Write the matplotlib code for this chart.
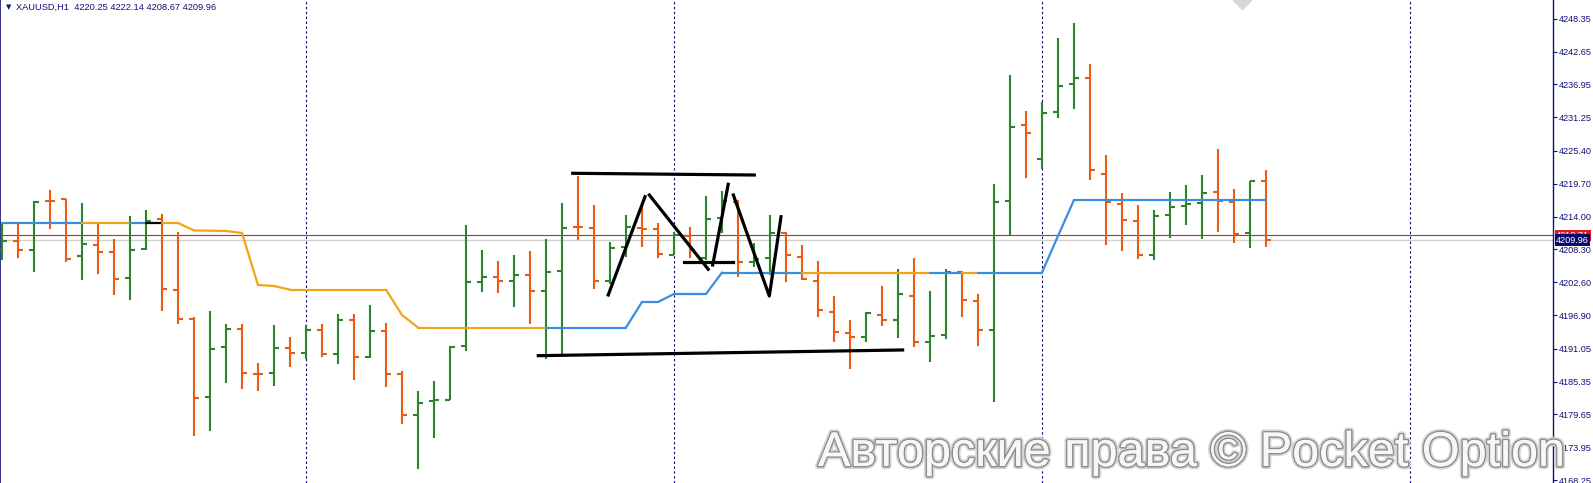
import matplotlib
matplotlib.use("Agg")
import matplotlib.pyplot as plt
import matplotlib.patheffects as pe
from matplotlib.collections import LineCollection

# hourly bars
opens = [4208.19, 4209.80, 4208.19, 4216.75, 4217.10, 4207.15, 4209.11, 4207.79, 4203.38, 4208.36,
         4213.52, 4201.30, 4196.21, 4182.67, 4191.40, 4194.52, 4186.71, 4186.83, 4191.23, 4190.36,
         4194.35, 4190.13, 4196.04, 4189.61, 4194.18, 4186.61, 4179.59, 4181.92, 4182.14, 4191.52,
         4202.69, 4203.55, 4202.86, 4203.90, 4201.07, 4204.60, 4212.24, 4211.96, 4202.86, 4208.76,
         4211.96, 4211.78, 4207.32, 4210.62, 4206.75, 4213.66, 4216.58, 4206.02, 4206.85, 4211.19,
         4207.06, 4202.86, 4197.37, 4193.83, 4193.14, 4196.90, 4196.04, 4200.25, 4192.21, 4193.43,
         4204.42, 4199.39, 4194.35, 4216.75, 4229.84, 4224.04, 4232.20, 4237.01, 4238.00, 4221.44,
         4216.23, 4213.17, 4207.37, 4214.32, 4215.88, 4216.40, 4218.31, 4216.58, 4211.19, 4220.25]
highs = [4212.88, 4213.00, 4216.75, 4218.61, 4217.10, 4216.35, 4212.70, 4210.10, 4214.09, 4215.14,
         4214.44, 4211.26, 4196.50, 4197.60, 4195.34, 4195.29, 4188.57, 4195.11, 4193.14, 4195.17,
         4195.34, 4197.08, 4197.08, 4198.64, 4195.46, 4187.18, 4183.71, 4185.44, 4191.52, 4212.53,
         4208.19, 4206.33, 4207.32, 4208.07, 4210.10, 4216.30, 4221.09, 4216.00, 4209.63, 4214.27,
         4215.88, 4212.83, 4211.37, 4212.24, 4217.62, 4218.52, 4216.87, 4209.35, 4214.27, 4211.37,
         4209.06, 4206.28, 4200.20, 4196.04, 4197.37, 4201.94, 4204.84, 4206.75, 4201.07, 4204.84,
         4204.54, 4200.50, 4219.60, 4238.58, 4232.33, 4233.84, 4245.00, 4247.61, 4240.43, 4224.63,
         4218.14, 4216.00, 4215.14, 4218.26, 4219.48, 4221.21, 4225.73, 4218.78, 4220.22, 4222.14]
lows = [4206.45, 4206.75, 4204.32, 4211.89, 4206.05, 4202.93, 4203.97, 4200.43, 4199.46, 4208.19,
        4197.55, 4195.29, 4175.84, 4176.71, 4185.15, 4184.00, 4183.76, 4184.63, 4187.93, 4189.26,
        4189.66, 4188.45, 4185.67, 4189.40, 4184.35, 4177.92, 4170.11, 4175.60, 4182.14, 4190.60,
        4200.98, 4200.78, 4198.24, 4195.39, 4189.21, 4189.96, 4209.87, 4201.37, 4202.29, 4206.92,
        4208.76, 4206.85, 4207.32, 4206.75, 4206.45, 4211.19, 4203.50, 4205.19, 4203.85, 4202.69,
        4202.98, 4196.61, 4192.27, 4187.47, 4192.27, 4195.05, 4192.86, 4191.29, 4188.69, 4192.68,
        4196.61, 4191.57, 4181.74, 4210.79, 4220.74, 4222.25, 4231.06, 4232.62, 4220.29, 4209.01,
        4208.10, 4206.58, 4206.45, 4210.33, 4212.58, 4210.15, 4211.37, 4209.46, 4208.48, 4208.67]
closes = [4209.80, 4208.19, 4216.58, 4216.70, 4206.63, 4209.28, 4207.89, 4203.21, 4208.24, 4213.28,
          4201.47, 4196.16, 4182.49, 4191.05, 4194.52, 4186.83, 4186.66, 4191.23, 4190.36, 4194.35,
          4190.13, 4196.04, 4189.66, 4194.18, 4186.71, 4179.59, 4181.67, 4182.06, 4191.40, 4202.69,
          4203.55, 4202.86, 4203.90, 4201.07, 4204.37, 4212.06, 4212.13, 4202.86, 4208.59, 4212.24,
          4211.78, 4207.44, 4210.71, 4208.19, 4213.63, 4216.78, 4206.19, 4206.58, 4211.09, 4207.32,
          4203.24, 4197.77, 4194.00, 4193.14, 4197.20, 4196.04, 4200.50, 4192.21, 4193.31, 4204.42,
          4199.51, 4194.35, 4216.58, 4229.60, 4228.56, 4232.03, 4236.72, 4238.00, 4222.13, 4216.58,
          4213.45, 4207.32, 4214.15, 4215.71, 4216.23, 4218.14, 4216.75, 4210.97, 4220.22, 4209.96]

# stepped indicator line and its colour runs (segments)
mid_line = [4212.88, 4212.88, 4212.88, 4212.88, 4212.88, 4212.88, 4212.88, 4212.88, 4212.88, 4212.88,
            4212.88, 4212.88, 4211.58, 4211.54, 4211.49, 4211.14, 4202.11, 4201.94, 4201.30, 4201.30,
            4201.30, 4201.30, 4201.30, 4201.30, 4201.30, 4196.90, 4194.73, 4194.73, 4194.73, 4194.73,
            4194.73, 4194.73, 4194.73, 4194.73, 4194.73, 4194.73, 4194.73, 4194.73, 4194.73, 4194.73,
            4199.16, 4199.16, 4200.55, 4200.55, 4200.55, 4204.28, 4204.28, 4204.28, 4204.28, 4204.28,
            4204.28, 4204.28, 4204.28, 4204.28, 4204.28, 4204.28, 4204.28, 4204.28, 4204.28, 4204.28,
            4204.28, 4204.28, 4204.28, 4204.28, 4204.28, 4204.28, 4210.62, 4216.87, 4216.87, 4216.87,
            4216.87, 4216.87, 4216.87, 4216.87, 4216.87, 4216.87, 4216.87, 4216.87, 4216.87, 4216.87]
mid_runs = [("#3a8ee0", 5), ("#f2a516", 3), ("#3a8ee0", 1), ("black", 1), ("#f2a516", 24),
            ("#3a8ee0", 16), ("#f2a516", 8), ("#3a8ee0", 2), ("#f2a516", 1), ("#3a8ee0", 18)]

# hand drawn lines: (bar, price) points
drawn_lines = [
    [(35.67, 4221.51), (47.02, 4221.21)],
    [(33.52, 4189.84), (56.29, 4190.83)],
    [(42.63, 4206.05), (45.67, 4206.05)],
    [(37.89, 4200.38), (40.19, 4217.45)],
    [(40.46, 4217.74), (44.14, 4204.84)],
    [(44.42, 4205.59), (45.39, 4219.60)],
    [(45.71, 4217.74), (47.96, 4200.20), (48.69, 4213.97)],
]

price_ticks = [4248.35, 4242.65, 4236.95, 4231.25, 4225.40, 4219.70, 4214.00, 4208.30,
               4202.60, 4196.90, 4191.05, 4185.35, 4179.65, 4173.95, 4168.25]
day_breaks = [19, 42, 65, 88]
ask, bid = 4210.71, 4209.96
title = "XAUUSD,H1  4220.25 4222.14 4208.67 4209.96"

navy = "#10107a"
up_col, down_col = "#2b862b", "#e85d12"

fig = plt.figure(figsize=(15.93, 4.83), dpi=100)
ax = fig.add_axes([0, 0, 1553 / 1593, 1])
ax.set_xlim(-0.125, 96.94)
ax.set_ylim(4167.73, 4251.6)

for k in day_breaks:
    ax.axvline(k, color=navy, lw=0.8, ls=(0, (2.2, 2.2)), zorder=1)
ax.axhline(bid, color="#cfcfcf", lw=0.9, zorder=1)
ax.axhline(ask, color="#e02020", lw=0.8, zorder=1)

xs = list(range(len(opens)))
cols = [up_col if c >= o else down_col for o, c in zip(opens, closes)]
ax.vlines(xs, lows, highs, colors=cols, lw=1.5, zorder=3)
ax.hlines(opens, [x - 0.32 for x in xs], xs, colors=cols, lw=1.5, zorder=3)
ax.hlines(closes, xs, [x + 0.32 for x in xs], colors=cols, lw=1.5, zorder=3)

seg_cols = []
for c, n in mid_runs:
    seg_cols += [c] * n
segs = [[(i, mid_line[i]), (i + 1, mid_line[i + 1])] for i in range(len(mid_line) - 1)]
ax.add_collection(LineCollection(segs, colors=seg_cols, lw=1.6, zorder=4, capstyle="round"))

for pts in drawn_lines:
    ax.plot([p[0] for p in pts], [p[1] for p in pts], color="black", lw=2.3, zorder=5)

ax.plot([77.48], [4251.6], marker="D", ms=9, color="#d8d8d8", mec="#d8d8d8", clip_on=True, zorder=2)

for s in ["top", "bottom"]:
    ax.spines[s].set_visible(False)
ax.spines["left"].set_color(navy)
ax.spines["right"].set_color(navy)
ax.spines["left"].set_linewidth(1.2)
ax.spines["right"].set_linewidth(1.0)
ax.set_xticks([])
ax.yaxis.tick_right()
ax.set_yticks(price_ticks)
ax.set_yticklabels(["%.2f" % v for v in price_ticks])
ax.tick_params(axis="y", direction="out", length=3, width=0.8, color=navy, pad=1.5,
               labelsize=6.6, labelcolor=navy)
for t in ax.get_yticklabels():
    t.set_family("Liberation Sans")

tr = ax.get_yaxis_transform()
ax.text(1.0 + 3 / 1553, ask, "%.2f" % ask, transform=tr, ha="left", va="center",
        fontsize=6.6, family="Liberation Sans", color="white", clip_on=False,
        bbox=dict(boxstyle="square,pad=0.15", fc="#e01818", ec="none"), zorder=6)
ax.text(1.0 + 3 / 1553, bid - 0.05, "%.2f" % bid, transform=tr, ha="left", va="center",
        fontsize=6.6, family="Liberation Sans", color="white", clip_on=False,
        bbox=dict(boxstyle="square,pad=0.15", fc="#0a0a6e", ec="none"), zorder=7)

fig.text(6 / 1593, 1 - 7.5 / 483, "\u25bc", fontsize=5, color=navy, va="center", ha="left",
         family="DejaVu Sans")
fig.text(16.5 / 1593, 1 - 7.5 / 483, title, fontsize=6.7, color=navy, va="center", ha="left",
         family="Liberation Sans")

fig.text(818 / 1593, 17 / 483, "Авторские права © Pocket Option", fontsize=35,
         family="Liberation Sans", color="#f7f7f7", va="baseline", ha="left", zorder=10,
         path_effects=[pe.withStroke(linewidth=4.5, foreground="#d4d4d4"),
                       pe.withStroke(linewidth=2.2, foreground="#8e8e8e"),
                       pe.Normal()])

fig.savefig("out.png", dpi=100, facecolor="white")
